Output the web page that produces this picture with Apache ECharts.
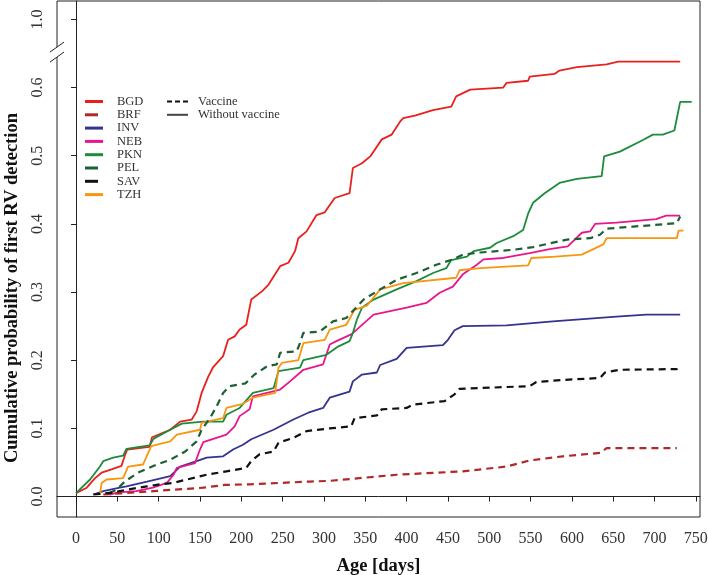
<!DOCTYPE html>
<html>
<head>
<meta charset="utf-8">
<script src="https://cdn.jsdelivr.net/npm/echarts@6/dist/echarts.min.js"></script>
<style>
html,body{margin:0;padding:0;background:#fff;}
#chart{width:708px;height:575px;}
</style>
</head>
<body>
<div id="chart"></div>
<script>
// ---- data: [age in days, cumulative probability] ----
const BGD = [[0,0.005],[13,0.013],[23,0.027],[31,0.035],[43,0.04],[55,0.045],[59,0.06],[62,0.069],[89,0.073],[92,0.087],[114,0.098],[126,0.11],[140,0.113],[146,0.125],[152,0.152],[160,0.176],[166,0.19],[178,0.206],[184,0.23],[192,0.235],[198,0.245],[206,0.252],[212,0.289],[225,0.301],[233,0.311],[247,0.338],[257,0.343],[265,0.36],[269,0.379],[279,0.389],[291,0.413],[301,0.417],[313,0.438],[331,0.445],[335,0.482],[346,0.489],[356,0.499],[370,0.524],[382,0.531],[392,0.55],[396,0.555],[410,0.559],[432,0.567],[454,0.572],[460,0.587],[477,0.597],[517,0.6],[521,0.607],[547,0.61],[549,0.616],[579,0.62],[585,0.625],[606,0.63],[642,0.634],[656,0.638],[731,0.638]];
const BRF = [[33,0.003],[60,0.005],[94,0.008],[154,0.013],[180,0.017],[210,0.018],[283,0.022],[307,0.023],[388,0.032],[468,0.037],[521,0.044],[549,0.053],[589,0.059],[634,0.064],[642,0.071],[727,0.071]];
const INV = [[21,0.003],[33,0.008],[53,0.013],[61,0.015],[86,0.022],[114,0.03],[126,0.044],[146,0.052],[158,0.057],[178,0.059],[190,0.069],[202,0.076],[212,0.084],[239,0.098],[263,0.113],[281,0.123],[299,0.13],[307,0.145],[331,0.154],[335,0.169],[346,0.179],[364,0.182],[368,0.193],[388,0.202],[400,0.218],[444,0.222],[450,0.23],[458,0.244],[468,0.25],[521,0.251],[577,0.257],[654,0.264],[690,0.267],[731,0.267]];
const NEB = [[41,0.003],[51,0.006],[73,0.008],[93,0.013],[110,0.02],[118,0.032],[122,0.042],[144,0.049],[150,0.069],[154,0.08],[182,0.091],[192,0.103],[198,0.118],[210,0.128],[214,0.147],[247,0.157],[259,0.169],[275,0.186],[299,0.194],[307,0.223],[315,0.228],[333,0.238],[337,0.242],[360,0.267],[400,0.277],[424,0.284],[440,0.299],[456,0.308],[468,0.326],[485,0.34],[493,0.348],[517,0.35],[549,0.357],[573,0.363],[595,0.367],[612,0.387],[622,0.389],[628,0.4],[654,0.402],[702,0.407],[714,0.412],[731,0.412]];
const PKN = [[0,0.005],[17,0.025],[29,0.044],[33,0.052],[45,0.057],[57,0.06],[61,0.07],[89,0.075],[94,0.085],[114,0.098],[128,0.107],[154,0.11],[178,0.11],[182,0.12],[198,0.13],[214,0.152],[239,0.159],[245,0.184],[271,0.189],[275,0.2],[303,0.208],[317,0.22],[331,0.228],[335,0.24],[340,0.26],[346,0.277],[360,0.289],[388,0.304],[412,0.316],[432,0.328],[448,0.335],[454,0.347],[473,0.352],[481,0.36],[501,0.365],[509,0.372],[529,0.382],[541,0.391],[547,0.415],[553,0.431],[567,0.445],[585,0.46],[606,0.466],[636,0.47],[639,0.499],[658,0.506],[686,0.523],[698,0.531],[710,0.531],[724,0.537],[731,0.579],[745,0.579]];
const PEL = [[40,0.005],[49,0.01],[59,0.022],[75,0.035],[98,0.047],[114,0.054],[132,0.066],[146,0.081],[152,0.098],[162,0.115],[170,0.132],[178,0.152],[186,0.162],[205,0.166],[216,0.179],[231,0.191],[243,0.194],[247,0.211],[267,0.213],[271,0.225],[275,0.24],[295,0.242],[311,0.257],[327,0.262],[348,0.289],[368,0.304],[388,0.318],[412,0.328],[436,0.34],[456,0.348],[468,0.355],[489,0.358],[529,0.362],[553,0.366],[594,0.377],[622,0.379],[634,0.384],[642,0.393],[674,0.396],[727,0.401],[731,0.411]];
const SAV = [[21,0.003],[45,0.006],[61,0.01],[86,0.015],[102,0.018],[118,0.02],[134,0.025],[158,0.032],[182,0.037],[206,0.042],[212,0.052],[222,0.062],[239,0.066],[245,0.079],[263,0.086],[279,0.096],[307,0.1],[333,0.103],[337,0.115],[364,0.119],[370,0.128],[400,0.13],[408,0.135],[446,0.14],[458,0.15],[464,0.158],[549,0.162],[557,0.168],[589,0.171],[634,0.174],[640,0.182],[658,0.186],[727,0.187],[729,0.195]];
const TZH = [[29,0.003],[31,0.02],[37,0.025],[57,0.027],[63,0.044],[81,0.047],[91,0.074],[114,0.081],[122,0.091],[150,0.098],[152,0.108],[178,0.115],[182,0.13],[202,0.136],[214,0.145],[241,0.152],[245,0.189],[249,0.196],[269,0.2],[275,0.225],[301,0.23],[307,0.245],[327,0.252],[337,0.274],[352,0.28],[368,0.304],[396,0.313],[460,0.321],[464,0.332],[489,0.335],[547,0.339],[551,0.35],[580,0.352],[612,0.355],[638,0.37],[642,0.379],[727,0.379],[729,0.39],[735,0.39]];

const sites = ['BGD','BRF','INV','NEB','PKN','PEL','SAV','TZH'];
const vaccinated = ['BRF','PEL','SAV'];
const siteData = {BGD, BRF, INV, NEB, PKN, PEL, SAV, TZH};
const siteColors = {BGD:'#e8211d', BRF:'#b0282a', INV:'#34338f', NEB:'#e8168c', PKN:'#1d8b3b', PEL:'#1e5f35', SAV:'#111111', TZH:'#f7960f'};

const xTicks = [0,50,100,150,200,250,300,350,400,450,500,550,600,650,700,750];
const yTickValues = [0,0.1,0.2,0.3,0.4,0.5,0.6,1.0];
const yTickLabels = ['0.0','0.1','0.2','0.3','0.4','0.5','0.6','1.0'];
const breakFrom = 0.65, breakTo = 0.95; // broken y scale

// broken-axis transform: values above the break are shifted down
function toAxis(v){ return v <= breakFrom ? v : v - (breakTo - breakFrom); }

const serif = '"Liberation Serif", "DejaVu Serif", serif';

const series = sites.map(name => ({
  name: name,
  type: 'line',
  data: siteData[name].map(p => [p[0], toAxis(p[1])]),
  showSymbol: false,
  symbol: 'none',
  color: siteColors[name],
  lineStyle: {
    width: vaccinated.includes(name) ? 2.2 : 1.8,
    type: vaccinated.includes(name) ? [7,5] : 'solid',
    color: siteColors[name]
  },
  animation: false,
  z: vaccinated.includes(name) ? 3 : 2
}));
series.push({name:'Vaccine', type:'line', data:[], color:'#111', lineStyle:{type:'dashed', color:'#111'}});
series.push({name:'Without vaccine', type:'line', data:[], color:'#444', lineStyle:{color:'#444'}});

const solidIcon = 'path://M0,0H18V3H0Z';
const shortIcon = 'path://M0,0H13V3H0Z M18,3';
const dashIcon = 'path://M0,0H5V2H0Z M8,0H13V2H8Z M16,0H21V2H16Z';
const longIcon = 'path://M0,0H21V2H0Z';

const yLabelMap = {};
yTickValues.forEach((v,i) => { yLabelMap[toAxis(v).toFixed(3)] = yTickLabels[i]; });

const chart = echarts.init(document.getElementById('chart'), null, {renderer:'canvas'});
const option = {
  backgroundColor: '#fff',
  animation: false,
  grid: {left: 57, right: 8, top: 1, bottom: 58, containLabel: false, outerBoundsMode: 'none',
         show: true, borderColor: '#222', borderWidth: 1, backgroundColor: 'transparent'},
  legend: [
    {
      orient: 'vertical', left: 85, top: 95, padding: 0,
      itemWidth: 18, itemHeight: 3, itemGap: 0.3,
      data: sites.map(n => ({name: n, icon: vaccinated.includes(n) ? shortIcon : solidIcon})),
      textStyle: {fontFamily: serif, fontSize: 12.5, color: '#333', lineHeight: 13, padding: [0,0,0,9]},
      selectedMode: false
    },
    {
      orient: 'vertical', left: 167, top: 95, padding: 0,
      itemWidth: 21, itemHeight: 2, itemGap: 0.3,
      data: [{name:'Vaccine', icon: dashIcon}, {name:'Without vaccine', icon: longIcon}],
      textStyle: {fontFamily: serif, fontSize: 12.5, color: '#333', lineHeight: 13, padding: [0,0,0,5]},
      selectedMode: false
    }
  ],
  xAxis: {
    type: 'value', min: -23, max: 755,
    name: 'Age [days]', nameLocation: 'middle', nameGap: 40,
    nameTextStyle: {fontFamily: serif, fontSize: 18.5, fontWeight: 'bold', color: '#111'},
    axisLine: {show: true, lineStyle: {color: '#222', width: 1}},
    axisTick: {show: true, length: 5, lineStyle: {color: '#222'}, customValues: xTicks},
    axisLabel: {fontFamily: serif, fontSize: 16, color: '#333', margin: 14, customValues: xTicks},
    splitLine: {show: false}
  },
  yAxis: {
    type: 'value', min: -0.03, max: 0.727,
    axisLine: {show: true, lineStyle: {color: '#222', width: 1}},
    axisTick: {show: true, length: 5, lineStyle: {color: '#222'}, customValues: yTickValues.map(toAxis)},
    axisLabel: {
      fontFamily: serif, fontSize: 16, color: '#333', rotate: 90, margin: 11,
      customValues: yTickValues.map(toAxis),
      formatter: v => yLabelMap[Number(v).toFixed(3)] || ''
    },
    splitLine: {show: false}
  },
  series: series
};
chart.setOption(option);

// axis-break marker and rotated y title
const x0 = chart.convertToPixel({xAxisIndex: 0}, -23);
const yb = chart.convertToPixel({yAxisIndex: 0}, 0.655);
const y0 = chart.convertToPixel({yAxisIndex: 0}, 0);
const y6 = chart.convertToPixel({yAxisIndex: 0}, 0.6);
chart.setOption({
  graphic: [
    {type:'rect', shape:{x: x0-2, y: yb-3, width: 4, height: 10}, style:{fill:'#fff'}, z: 100},
    {type:'line', shape:{x1: x0-7, y1: yb+2, x2: x0+7, y2: yb-8}, style:{stroke:'#222', lineWidth:1}, z: 101},
    {type:'line', shape:{x1: x0-7, y1: yb+12, x2: x0+7, y2: yb+2}, style:{stroke:'#222', lineWidth:1}, z: 101},
    {type:'text', x: 12, y: (y0 + y6)/2 - 4, rotation: Math.PI/2,
     style:{text:'Cumulative probability of first RV detection', font: 'bold 18.5px ' + serif, fill:'#111', textAlign:'center', textVerticalAlign:'middle'}, z: 100}
  ]
});
</script>
</body>
</html>
